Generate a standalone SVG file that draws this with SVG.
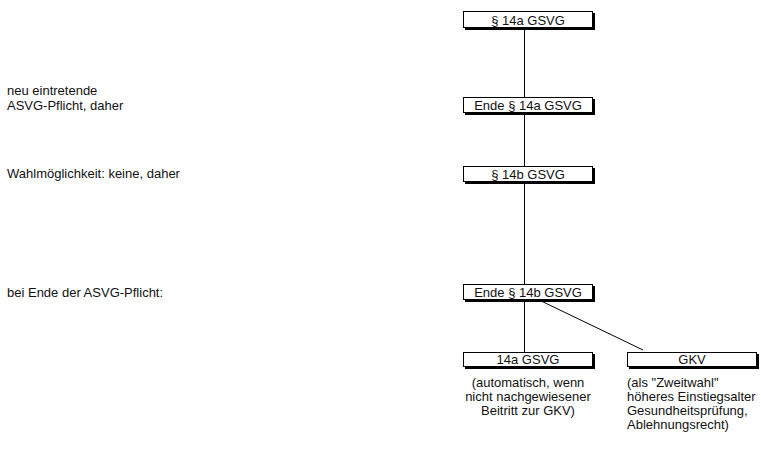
<svg xmlns="http://www.w3.org/2000/svg" width="761" height="449" viewBox="0 0 761 449">
<style>
text{font-family:"Liberation Sans",Arial,sans-serif;font-size:13px;fill:#111}
.c{text-anchor:middle}
.sh{fill:#000}
.bx{fill:#fff;stroke:#000;stroke-width:1}
.ln{stroke:#000;stroke-width:1;fill:none}
</style>
<rect width="761" height="449" fill="#fff"/>
<g id="connectors">
<line class="ln" x1="524.5" y1="28" x2="524.5" y2="98"/>
<line class="ln" x1="524.5" y1="113" x2="524.5" y2="167"/>
<line class="ln" x1="524.5" y1="181" x2="524.5" y2="285"/>
<line class="ln" x1="524.5" y1="299" x2="524.5" y2="353"/>
<line class="ln" x1="537" y1="299" x2="643" y2="350"/>
</g>
<g id="labels-left">
<text x="7" y="95">neu eintretende</text>
<text x="7" y="110">ASVG-Pflicht, daher</text>
<text x="7" y="178">Wahlmöglichkeit: keine, daher</text>
<text x="7" y="297">bei Ende der ASVG-Pflicht:</text>
</g>
<g id="n1"><rect class="sh" x="465" y="13" width="130" height="17"/><rect class="bx" x="463.5" y="11.5" width="129" height="16"/><text class="c" x="528" y="25">§ 14a GSVG</text></g>
<g id="n2"><rect class="sh" x="465" y="99" width="130" height="16"/><rect class="bx" x="463.5" y="97.5" width="129" height="15"/><text class="c" x="528" y="110">Ende § 14a GSVG</text></g>
<g id="n3"><rect class="sh" x="465" y="168" width="130" height="16"/><rect class="bx" x="463.5" y="166.5" width="129" height="15"/><text class="c" x="528" y="179">§ 14b GSVG</text></g>
<g id="n4"><rect class="sh" x="465" y="286" width="130" height="16"/><rect class="bx" x="463.5" y="284.5" width="129" height="15"/><text class="c" x="528" y="297">Ende § 14b GSVG</text></g>
<g id="n5"><rect class="sh" x="465" y="354" width="130" height="15"/><rect class="bx" x="463.5" y="352.5" width="129" height="14"/><text class="c" x="528" y="364">14a GSVG</text>
<text class="c" x="528" y="387">(automatisch, wenn</text><text class="c" x="528" y="401">nicht nachgewiesener</text><text class="c" x="528" y="415">Beitritt zur GKV)</text></g>
<g id="n6"><rect class="sh" x="629" y="354" width="130" height="15"/><rect class="bx" x="627.5" y="352.5" width="129" height="14"/><text class="c" x="692" y="364">GKV</text>
<text x="627" y="387">(als "Zweitwahl"</text><text x="627" y="401">höheres Einstiegsalter</text><text x="627" y="415">Gesundheitsprüfung,</text><text x="627" y="429">Ablehnungsrecht)</text></g>
</svg>
